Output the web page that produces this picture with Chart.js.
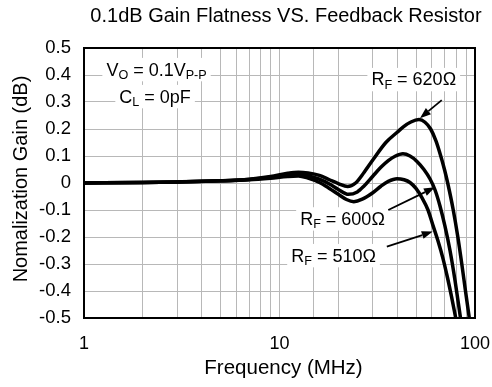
<!DOCTYPE html>
<html><head><meta charset="utf-8">
<script src="https://cdn.jsdelivr.net/npm/chart.js@4/dist/chart.umd.min.js"></script>
<style>html,body{margin:0;padding:0;background:#fff}#wrap{width:492px;height:387px;position:relative}</style>
</head><body><div id="wrap"><canvas id="c" width="492" height="387"></canvas></div>
<script>
// ---- data ----
const chartTitle = '0.1dB Gain Flatness VS. Feedback Resistor';
const xAxisTitle = 'Frequency (MHz)';
const yAxisTitle = 'Nomalization Gain (dB)';
const xTickLabels = [1, 10, 100];
const yTickLabels = ['-0.5','-0.4','-0.3','-0.2','-0.1','0','0.1','0.2','0.3','0.4','0.5'];

const freq620 = [1,2,3,5,7,9,11,12.5,14,16,18,20,22.3,24.5,27,30,35,40,43,47,51.7,55.5,59.3,63.2,66.8,69.8,72.5,77.4,81.7,85.6,89.4,93.5];
const gain620 = [0,0.002,0.004,0.008,0.014,0.024,0.036,0.040,0.037,0.028,0.012,-0.002,-0.013,0.0,0.038,0.085,0.15,0.188,0.208,0.226,0.235,0.225,0.2,0.155,0.1,0.05,0,-0.1,-0.2,-0.3,-0.4,-0.5];

const freq600 = [1,2,3,5,7,9,11,12.5,14,16,18,20,22.5,25,27,30,33,36,39,42.8,46.5,50.5,54.8,58.9,62.4,66.2,70.2,74.5,79.0,84.3];
const gain600 = [0,0.002,0.004,0.008,0.013,0.021,0.030,0.033,0.027,0.014,-0.004,-0.024,-0.042,-0.033,-0.012,0.025,0.058,0.083,0.099,0.108,0.1,0.08,0.05,0.015,-0.025,-0.085,-0.16,-0.25,-0.36,-0.5];

const freq510 = [1,2,3,5,7,9,11,12.5,14,16,18,20,22,24,26.5,30,33,36,39.9,43.4,46.5,49.9,53.6,57.5,61.0,64.7,68.6,72.3,75.8,79.7];
const gain510 = [0,0.002,0.004,0.008,0.012,0.018,0.024,0.026,0.018,0.002,-0.02,-0.042,-0.061,-0.069,-0.06,-0.036,-0.012,0.006,0.016,0.012,0.002,-0.02,-0.055,-0.1,-0.158,-0.215,-0.28,-0.35,-0.42,-0.5];

const seriesNames = ['RF = 620Ω','RF = 600Ω','RF = 510Ω'];

// ---- annotations (data coordinates) ----
const FONT = 'Arial, "Liberation Sans", sans-serif';
const notes = [
  {segs:[['V'],['O',1],[' = 0.1V'],['P-P',1]], f:2.35, v:0.422},
  {segs:[['C'],['L',1],[' = 0pF']], f:2.31, v:0.322},
  {segs:[['R'],['F',1],[' = 620Ω']], f:48.6, v:0.385},
  {segs:[['R'],['F',1],[' = 600Ω']], f:21.0, v:-0.131},
  {segs:[['R'],['F',1],[' = 510Ω']], f:18.9, v:-0.267}
];
const arrows = [
  {from:[67.6,0.307], to:[52.3,0.24]},
  {from:[36.0,-0.1], to:[62.4,-0.016]},
  {from:[35.4,-0.236], to:[60.8,-0.18]}
];

function pts(fs, gs){ return fs.map((f,i)=>({x:f, y:gs[i]})); }

const NOTE_FS = 18;
function measure(ctx, segs){
  let w = 0;
  segs.forEach(s=>{ ctx.font = (s[1]? NOTE_FS*0.7 : NOTE_FS) + 'px ' + FONT; w += ctx.measureText(s[0]).width; });
  return w;
}

const deco = {
  id:'deco',
  beforeDatasetsDraw(chart){
    const {ctx, scales:{x,y}} = chart;
    ctx.save();
    ctx.fillStyle = '#fff';
    notes.forEach(n=>{
      const w = measure(ctx, n.segs);
      const cx = x.getPixelForValue(n.f), cy = y.getPixelForValue(n.v);
      ctx.fillRect(cx - w/2 - 4, cy - NOTE_FS*0.62, w + 8, NOTE_FS*1.3);
    });
    ctx.restore();
  },
  afterDatasetsDraw(chart){
    const {ctx, chartArea:a, scales:{x,y}} = chart;
    ctx.save();
    ctx.strokeStyle = '#000'; ctx.lineWidth = 2;
    ctx.strokeRect(a.left, a.top, a.right - a.left, a.bottom - a.top);
    ctx.fillStyle = '#000'; ctx.textBaseline = 'alphabetic'; ctx.textAlign = 'left';
    notes.forEach(n=>{
      const w = measure(ctx, n.segs);
      let px = x.getPixelForValue(n.f) - w/2;
      const base = y.getPixelForValue(n.v) + NOTE_FS*0.716/2;
      n.segs.forEach(s=>{
        const fs = s[1]? NOTE_FS*0.7 : NOTE_FS;
        ctx.font = fs + 'px ' + FONT;
        ctx.fillText(s[0], px, base + (s[1]? NOTE_FS*0.2 : 0));
        px += ctx.measureText(s[0]).width;
      });
    });
    arrows.forEach(ar=>{
      const x0 = x.getPixelForValue(ar.from[0]), y0 = y.getPixelForValue(ar.from[1]);
      const x1 = x.getPixelForValue(ar.to[0]), y1 = y.getPixelForValue(ar.to[1]);
      const ang = Math.atan2(y1-y0, x1-x0);
      const L = 11, W = 4;
      const bx = x1 - L*Math.cos(ang), by = y1 - L*Math.sin(ang);
      ctx.strokeStyle = '#000'; ctx.lineWidth = 1.8;
      ctx.beginPath(); ctx.moveTo(x0,y0); ctx.lineTo(bx,by); ctx.stroke();
      ctx.beginPath();
      ctx.moveTo(x1,y1);
      ctx.lineTo(bx + W*Math.sin(ang), by - W*Math.cos(ang));
      ctx.lineTo(bx - W*Math.sin(ang), by + W*Math.cos(ang));
      ctx.closePath(); ctx.fill();
    });
    ctx.restore();
  },
  afterDraw(chart){
    const {ctx, chartArea:a} = chart;
    ctx.save();
    ctx.fillStyle = '#000';
    ctx.textAlign = 'center'; ctx.textBaseline = 'middle';
    ctx.font = '20px ' + FONT;
    ctx.fillText(chartTitle, 286, 16.5);
    ctx.font = '20.5px ' + FONT;
    ctx.fillText(xAxisTitle, 283.5, 368);
    ctx.translate(21, (a.top + a.bottom)/2 - 4);
    ctx.rotate(-Math.PI/2);
    ctx.font = '20px ' + FONT;
    ctx.fillText(yAxisTitle, 0, 0);
    ctx.restore();
  }
};

const ds = (name, data) => ({label:name, data, borderColor:'#000', borderWidth:3.5, pointRadius:0, fill:false, cubicInterpolationMode:'monotone'});

new Chart(document.getElementById('c'), {
  type:'line',
  data:{datasets:[ds(seriesNames[0], pts(freq620,gain620)), ds(seriesNames[1], pts(freq600,gain600)), ds(seriesNames[2], pts(freq510,gain510))]},
  options:{
    responsive:false, animation:false, devicePixelRatio:1,
    layout:{padding:{left:0, right:17, top:48, bottom:0}},
    plugins:{legend:{display:false}, title:{display:false}, tooltip:{enabled:false}},
    scales:{
      x:{type:'logarithmic', min:1, max:100,
        grid:{color:'#b8b8b8', lineWidth:1, drawTicks:true, tickLength:15, tickColor:'rgba(0,0,0,0)'},
        border:{display:false},
        ticks:{autoSkip:false, maxRotation:0, padding:0, color:'#000', font:{size:18, family:FONT},
          callback:(v)=> xTickLabels.includes(v) ? String(v) : ''},
        afterFit:(s)=>{ s.height = 69; }
      },
      y:{type:'linear', min:-0.5, max:0.5,
        grid:{color:'#b8b8b8', lineWidth:1, drawTicks:false},
        border:{display:false},
        ticks:{stepSize:0.1, padding:13, color:'#000', font:{size:18.5, family:FONT},
          callback:(v,i)=> yTickLabels[i]},
        afterFit:(s)=>{ s.width = 84; }
      }
    }
  },
  plugins:[deco]
});
</script></body></html>
